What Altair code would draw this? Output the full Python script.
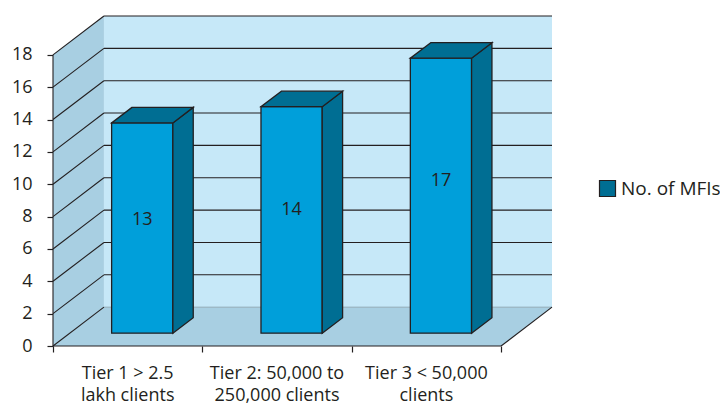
import altair as alt
import pandas as pd

# ---- data -------------------------------------------------------------
categories = ["Tier 1 > 2.5\nlakh clients",
              "Tier 2: 50,000 to\n250,000 clients",
              "Tier 3 < 50,000\nclients"]
mfi_counts = [13, 14, 17]
series_name = "No. of MFIs"
y_ticks = [0, 2, 4, 6, 8, 10, 12, 14, 16, 18]

# ---- 3D box geometry (in data units) -----------------------------------
N = len(categories)
Y_TOP = 18
DX = 0.341          # horizontal shift of the back plane (category units)
DY = 2.4            # vertical shift of the back plane (value units)
ZF, ZB = 0.33, 0.73  # depth of bar front / back faces (0 = front, 1 = back)
BL, BR = 0.28, 0.69  # bar left / right edge inside its category

X_MAX = N + DX
Y_MAX = Y_TOP + DY

TEXT = "#231F20"
FONT = "Open Sans"
BACK = "#C6E8F8"
SIDE = "#A8CFE2"
FRONT = "#009FDA"
DARK = "#006E93"

xs = alt.Scale(domain=[0, X_MAX], nice=False, zero=False)
ys = alt.Scale(domain=[0, Y_MAX], nice=False, zero=False)

# one axis definition shared by every layer so the layered axes merge cleanly
x_axis = alt.Axis(values=list(range(N + 1)), labels=False, domain=False, grid=False,
                  ticks=True, tickSize=6, tickColor=TEXT, tickWidth=1.2, title=None)
y_axis = alt.Axis(values=y_ticks, domain=False, grid=False, ticks=True, tickSize=6,
                  tickColor=TEXT, tickWidth=1.2, labelFontSize=18, labelFont=FONT,
                  labelColor=TEXT, labelPadding=15, title=None)


def X(field, **kw):
    return alt.X(field, type="quantitative", scale=xs, axis=x_axis, stack=None, **kw)


def Y(field, **kw):
    return alt.Y(field, type="quantitative", scale=ys, axis=y_axis, stack=None, **kw)


# floor, left wall, back wall
floor = pd.DataFrame({"y": [0, DY], "xa": [0, DX], "xb": [N, N + DX]})
left_wall = pd.DataFrame({"x": [0, DX], "ya": [0, DY], "yb": [Y_TOP, Y_TOP + DY]})
back_wall = pd.DataFrame({"x": [DX], "x2": [N + DX], "y": [DY], "y2": [Y_TOP + DY]})

floor_layer = alt.Chart(floor).mark_area(orient="horizontal", color=SIDE, opacity=1).encode(
    y=Y("y"), x=X("xa"), x2="xb")
left_layer = alt.Chart(left_wall).mark_area(orient="vertical", color=SIDE, opacity=1).encode(
    x=X("x"), y=Y("ya"), y2="yb")
back_layer = alt.Chart(back_wall).mark_rect(color=BACK).encode(
    x=X("x"), x2="x2", y=Y("y"), y2="y2")

# grid lines: back-wall horizontals and left-wall diagonals
segs = []
for t in y_ticks:
    if t > 0:
        segs.append({"x": DX, "x2": N + DX, "y": t + DY, "y2": t + DY})
    segs.append({"x": 0, "x2": DX, "y": t, "y2": t + DY})
segs.append({"x": N, "x2": N + DX, "y": 0, "y2": DY})        # floor right edge
segs.append({"x": 0, "x2": 0, "y": 0, "y2": Y_TOP})           # value axis line
segs.append({"x": 0, "x2": N, "y": 0, "y2": 0})               # category axis line
grid = pd.DataFrame(segs)
grid_layer = alt.Chart(grid).mark_rule(color=TEXT, strokeWidth=1.1).encode(
    x=X("x"), x2="x2", y=Y("y"), y2="y2")

floor_back = pd.DataFrame({"x": [DX], "x2": [N + DX], "y": [DY], "y2": [DY]})
floor_back_layer = alt.Chart(floor_back).mark_rule(color="#8FA9B6", strokeWidth=1).encode(
    x=X("x"), x2="x2", y=Y("y"), y2="y2")

# bars
front_rows, side_rows, top_rows, label_rows = [], [], [], []
for i, v in enumerate(mfi_counts):
    front_rows.append({"x": i + BL + ZF * DX, "x2": i + BR + ZF * DX,
                       "y": ZF * DY, "y2": v + ZF * DY})
    for z in (ZF, ZB):
        side_rows.append({"bar": i, "series": series_name, "x": i + BR + z * DX,
                          "y": z * DY, "y2": v + z * DY})
        top_rows.append({"bar": i, "y": v + z * DY,
                         "xa": i + BL + z * DX, "xb": i + BR + z * DX})
    label_rows.append({"x": i + (BL + BR) / 2 + ZF * DX, "y": 0.6 * v, "text": str(v)})

front_layer = alt.Chart(pd.DataFrame(front_rows)).mark_rect(
    color=FRONT, stroke=TEXT, strokeWidth=1.3).encode(
    x=X("x"), x2="x2", y=Y("y"), y2="y2")

side_layer = alt.Chart(pd.DataFrame(side_rows)).mark_area(
    orient="vertical", stroke=TEXT, strokeWidth=1.3, opacity=1).encode(
    x=X("x"), y=Y("y"), y2="y2", detail="bar:N",
    color=alt.Color("series:N", scale=alt.Scale(range=[DARK]),
                    legend=alt.Legend(title=None, orient="none", legendX=545, legendY=163,
                                      symbolType="square", symbolSize=256,
                                      symbolStrokeColor=TEXT, symbolStrokeWidth=1.2,
                                      symbolFillColor=DARK, symbolOpacity=1,
                                      labelFontSize=19, labelFont=FONT, labelColor=TEXT,
                                      labelOffset=4, padding=0)))

top_layer = alt.Chart(pd.DataFrame(top_rows)).mark_area(
    orient="horizontal", color=DARK, stroke=TEXT, strokeWidth=1.3, opacity=1).encode(
    y=Y("y"), x=X("xa"), x2="xb", detail="bar:N")

value_labels = alt.Chart(pd.DataFrame(label_rows)).mark_text(
    font=FONT, fontSize=18, color=TEXT, baseline="middle", align="center").encode(
    x=X("x"), y=Y("y"), text="text:N")

cat_labels = alt.Chart(pd.DataFrame({"x": [i + 0.5 for i in range(N)], "text": categories})).mark_text(
    font=FONT, fontSize=18, color=TEXT, baseline="top", align="center",
    lineBreak="\n", lineHeight=22).encode(
    x=X("x"), y=alt.value(349), text="text:N")

chart = alt.layer(
    back_layer, floor_layer, left_layer, floor_back_layer, grid_layer,
    front_layer, side_layer, top_layer, value_labels, cat_labels,
).properties(
    width=499, height=330,
    autosize=alt.AutoSizeParams(type="none"),
    padding={"left": 53, "top": 16, "right": 168, "bottom": 63},
    background="white",
).configure_view(stroke=None)

chart.save("out.html", embed_options={"renderer": "svg", "actions": False})
